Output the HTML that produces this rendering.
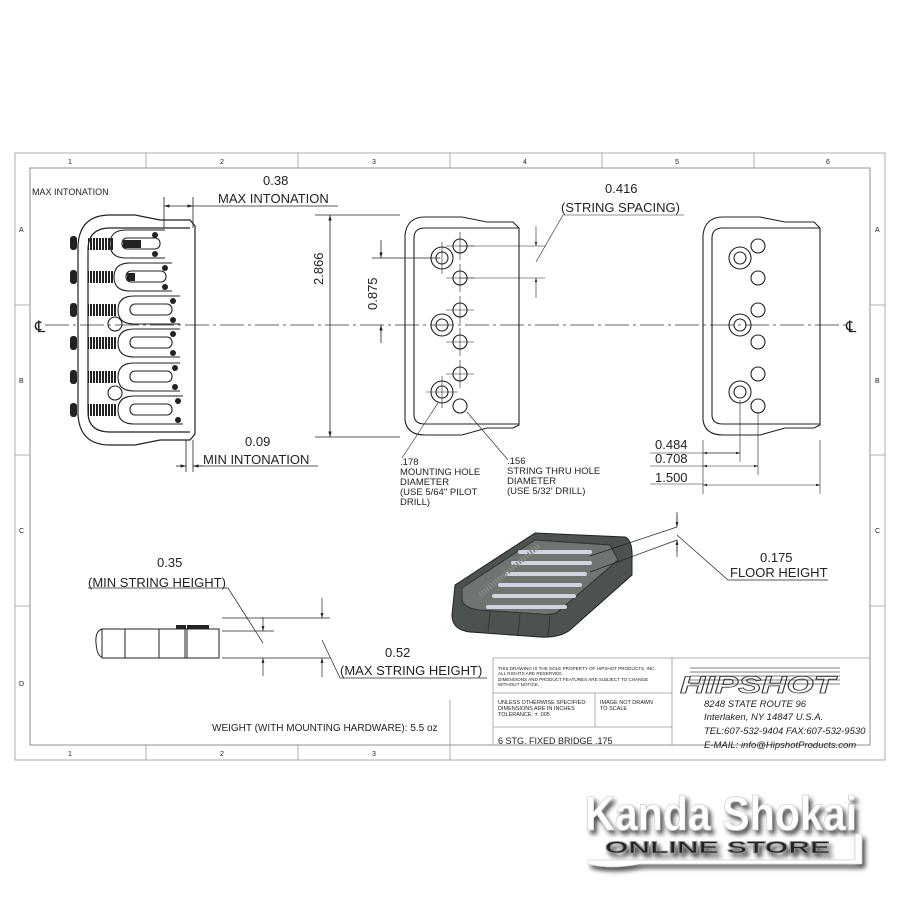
<!DOCTYPE html>
<html><head><meta charset="utf-8"><style>
html,body{margin:0;padding:0;background:#fff;width:900px;height:900px;overflow:hidden}
svg{display:block}
text{font-family:"Liberation Sans",sans-serif;fill:#222}
.hip{fill:none;stroke:#333;stroke-width:0.8}
.wm{fill:#fff;stroke:#bbb;stroke-width:0.5}
</style></head><body>
<svg width="900" height="900" viewBox="0 0 900 900" xmlns="http://www.w3.org/2000/svg">
<defs>
<marker id="ar" viewBox="0 0 10 10" refX="10" refY="5" markerWidth="7" markerHeight="7" orient="auto-start-reverse"><path d="M0,2 L10,5 L0,8z" fill="#222"/></marker>
<pattern id="spr" width="3" height="10" patternUnits="userSpaceOnUse"><rect width="2" height="10" fill="#222"/></pattern>
<filter id="sh" x="-10%" y="-30%" width="130%" height="160%"><feGaussianBlur in="SourceAlpha" stdDeviation="2.5"/><feOffset dx="3" dy="4"/><feComponentTransfer><feFuncA type="linear" slope="0.7"/></feComponentTransfer><feMerge><feMergeNode/><feMergeNode in="SourceGraphic"/></feMerge></filter>
</defs>
<g fill="none" stroke="#999" stroke-width="0.8">
<rect x="15" y="153" width="870" height="607"/>
<rect x="30" y="168" width="840" height="577" stroke="#777"/>
<path d="M146,153v15M298,153v15M450,153v15M602,153v15M754,153v15M146,745v15M298,745v15M450,745v15M15,305h15M15,455h15M15,606h15M870,305h15M870,455h15M870,606h15"/>
</g>
<g font-size="7" fill="#555">
<text x="68" y="164">1</text><text x="220" y="164">2</text><text x="372" y="164">3</text><text x="523" y="164">4</text><text x="675" y="164">5</text><text x="826" y="164">6</text>
<text x="68" y="756">1</text><text x="220" y="756">2</text><text x="372" y="756">3</text>
<text x="19" y="232">A</text><text x="19" y="383">B</text><text x="19" y="533">C</text><text x="19" y="686">D</text>
<text x="875" y="232">A</text><text x="875" y="383">B</text><text x="875" y="533">C</text>
</g>
<text x="32" y="195" font-size="9">MAX INTONATION</text>
<line x1="45" y1="325" x2="848" y2="325" stroke="#333" stroke-width="0.8" stroke-dasharray="24,4,3,4"/>
<text x="35" y="332" font-size="16">℄</text><text x="846" y="332" font-size="16">℄</text>

<!-- LEFT BRIDGE -->
<g fill="none" stroke="#222" stroke-width="1.2">
<path d="M78,245 Q80,215 110,215 L135,215 L160,220 L190,220 L195,226 L195,434 L190,440 L160,440 L135,445 L110,445 Q80,445 78,415 Z"/>
<path d="M88,250 Q88,228 110,228 L190,228 M88,250 L88,412 Q88,432 110,432 L190,432"/>
</g>
<g fill="#222">
<rect x="70" y="236" width="7" height="14" rx="3"/><rect x="70" y="270" width="7" height="14" rx="3"/><rect x="70" y="303" width="7" height="14" rx="3"/><rect x="70" y="336" width="7" height="14" rx="3"/><rect x="70" y="370" width="7" height="14" rx="3"/><rect x="70" y="403" width="7" height="14" rx="3"/>
</g>
<g>
<rect x="88" y="238" width="26" height="12" fill="url(#spr)"/>
<rect x="88" y="271" width="26" height="12" fill="url(#spr)"/>
<rect x="88" y="304" width="28" height="12" fill="url(#spr)"/>
<rect x="88" y="337" width="28" height="12" fill="url(#spr)"/>
<rect x="88" y="371" width="28" height="12" fill="url(#spr)"/>
<rect x="88" y="404" width="28" height="12" fill="url(#spr)"/>
</g>
<g fill="none" stroke="#222" stroke-width="1.1">
<path d="M165,230 H126 Q110,230 110,244 Q110,258 126,258 H165"/><rect x="122" y="238" width="38" height="11" rx="5"/>
<path d="M172,263 H130 Q114,263 114,277 Q114,291 130,291 H172"/><rect x="126" y="271" width="40" height="11" rx="5"/>
<path d="M180,296 H134 Q118,296 118,310 Q118,324 134,324 H180"/><rect x="130" y="304" width="42" height="11" rx="5"/>
<path d="M180,329 H134 Q118,329 118,343 Q118,357 134,357 H180"/><rect x="130" y="337" width="42" height="11" rx="5"/>
<path d="M180,363 H134 Q118,363 118,377 Q118,391 134,391 H180"/><rect x="130" y="371" width="42" height="11" rx="5"/>
<path d="M183,396 H134 Q118,396 118,410 Q118,424 134,424 H183"/><rect x="130" y="404" width="42" height="11" rx="5"/>
<circle cx="115" cy="324" r="7"/><circle cx="115" cy="393" r="7"/>
</g>
<rect x="123" y="240" width="18" height="8" fill="#222"/><rect x="127" y="273" width="8" height="8" fill="#222"/>
<g fill="#222">
<circle cx="155" cy="235" r="3"/><circle cx="155" cy="254" r="3"/><circle cx="165" cy="268" r="3"/><circle cx="165" cy="287" r="3"/><circle cx="173" cy="301" r="3"/><circle cx="173" cy="320" r="3"/><circle cx="173" cy="334" r="3"/><circle cx="173" cy="353" r="3"/><circle cx="175" cy="368" r="3"/><circle cx="175" cy="387" r="3"/><circle cx="178" cy="401" r="3"/><circle cx="178" cy="420" r="3"/>
</g>
<g stroke="#222" stroke-width="0.8" fill="none">
<line x1="164" y1="197" x2="164" y2="228"/><line x1="193" y1="197" x2="193" y2="228"/>
<line x1="164" y1="206" x2="193" y2="206" marker-start="url(#ar)" marker-end="url(#ar)"/>
<line x1="193" y1="206" x2="338" y2="206"/>
<line x1="193" y1="440" x2="193" y2="472"/><line x1="186" y1="440" x2="186" y2="472"/>
<line x1="176" y1="466" x2="186" y2="466" marker-end="url(#ar)"/><line x1="203" y1="466" x2="193" y2="466" marker-end="url(#ar)"/>
<line x1="193" y1="466" x2="318" y2="466"/>
<line x1="315" y1="215" x2="400" y2="215"/><line x1="315" y1="437" x2="400" y2="437"/>
<line x1="330" y1="215" x2="330" y2="437" marker-start="url(#ar)" marker-end="url(#ar)"/>
<line x1="372" y1="258" x2="440" y2="258"/>
<line x1="381" y1="240" x2="381" y2="258" marker-end="url(#ar)"/><line x1="381" y1="343" x2="381" y2="325" marker-end="url(#ar)"/>
</g>
<text x="263" y="185" font-size="13">0.38</text>
<text x="218" y="203" font-size="13">MAX INTONATION</text>
<text x="245" y="446" font-size="13">0.09</text>
<text x="203" y="464" font-size="13">MIN INTONATION</text>
<text font-size="13" transform="translate(323,285) rotate(-90)">2.866</text>
<text font-size="13" transform="translate(377,310) rotate(-90)">0.875</text>

<!-- MIDDLE & RIGHT BRIDGE -->
<g fill="none" stroke="#222" stroke-width="1.1">
<path d="M405,235 Q407,217 425,217 L462,217 L487,222 L513,222 L519,228 L519,425 L513,428 L487,428 L462,435 L425,435 Q407,435 405,420 Z"/>
<path d="M414,238 Q414,228 425,228 L519,228 M414,238 L414,415 Q414,424 425,424 L519,424"/>
<circle cx="442" cy="258" r="11"/><circle cx="442" cy="258" r="6"/>
<circle cx="442" cy="325" r="11"/><circle cx="442" cy="325" r="6"/>
<circle cx="442" cy="392" r="11"/><circle cx="442" cy="392" r="6"/>
<circle cx="460" cy="246" r="7"/><circle cx="460" cy="278" r="7"/><circle cx="460" cy="310" r="7"/><circle cx="460" cy="342" r="7"/><circle cx="460" cy="374" r="7"/><circle cx="460" cy="406" r="7"/>
<path d="M703,235 Q705,217 723,217 L760,217 L785,222 L814,222 L820,228 L820,425 L814,428 L785,428 L760,435 L723,435 Q705,435 703,420 Z"/>
<path d="M712,238 Q712,228 723,228 L820,228 M712,238 L712,415 Q712,424 723,424 L820,424"/>
<circle cx="740" cy="258" r="11"/><circle cx="740" cy="258" r="6"/>
<circle cx="740" cy="325" r="11"/><circle cx="740" cy="325" r="6"/>
<circle cx="740" cy="392" r="11"/><circle cx="740" cy="392" r="6"/>
<circle cx="758" cy="246" r="7"/><circle cx="758" cy="278" r="7"/><circle cx="758" cy="310" r="7"/><circle cx="758" cy="342" r="7"/><circle cx="758" cy="374" r="7"/><circle cx="758" cy="406" r="7"/>
</g>
<g stroke="#222" stroke-width="0.6" fill="none">
<path d="M460,232v28M446,246h28M460,264v28M446,278h28M460,296v28M446,310h28M460,328v28M446,342h28M460,360v28M446,374h28M442,242v32M426,392h32M442,376v32"/>
<line x1="460" y1="246" x2="545" y2="246"/><line x1="460" y1="278" x2="545" y2="278"/>
<line x1="536" y1="226" x2="536" y2="246" marker-end="url(#ar)"/><line x1="536" y1="298" x2="536" y2="278" marker-end="url(#ar)"/>
<path d="M536,262 L563,215 L684,215"/>
<path d="M438,403 L402,458"/><path d="M467,412 L508,460"/>
<line x1="703" y1="440" x2="703" y2="494"/><line x1="820" y1="440" x2="820" y2="494"/>
<line x1="740" y1="400" x2="740" y2="462"/><line x1="758" y1="412" x2="758" y2="475"/>
<line x1="650" y1="453" x2="740" y2="453"/><line x1="703" y1="453" x2="740" y2="453" marker-start="url(#ar)" marker-end="url(#ar)"/>
<line x1="650" y1="466" x2="703" y2="466"/><line x1="703" y1="466" x2="758" y2="466" marker-start="url(#ar)" marker-end="url(#ar)"/>
<line x1="650" y1="484" x2="703" y2="484"/><line x1="703" y1="485" x2="820" y2="485" marker-start="url(#ar)" marker-end="url(#ar)"/>
</g>
<text x="605" y="193" font-size="13">0.416</text>
<text x="561" y="212" font-size="13">(STRING SPACING)</text>
<text x="655" y="449" font-size="13">0.484</text>
<text x="655" y="463" font-size="13">0.708</text>
<text x="655" y="482" font-size="13">1.500</text>
<g font-size="9.5"><text x="400" y="465">.178</text><text x="400" y="475">MOUNTING HOLE</text><text x="400" y="485">DIAMETER</text><text x="400" y="495">(USE 5/64" PILOT</text><text x="400" y="505">DRILL)</text>
<text x="507" y="464">.156</text><text x="507" y="474">STRING THRU HOLE</text><text x="507" y="484">DIAMETER</text><text x="507" y="494">(USE 5/32' DRILL)</text></g>

<!-- 3D VIEW -->
<g>
<path d="M455,585 L535,533 L625,537 Q633,540 632,560 L632,575 L570,630 Q560,638 540,637 L470,632 Q452,630 452,615 Z" fill="#4c524d" stroke="#222"/>
<path d="M462,588 L535,540 L610,545 L618,560 L560,610 Q555,616 540,614 L480,610 Q462,608 462,598 Z" fill="#6e746f" stroke="#333"/>
<g stroke="#cfd4de" stroke-width="4" fill="none" stroke-linecap="round">
<path d="M520,552 L590,552"/><path d="M513,563 L590,563"/><path d="M507,574 L585,574"/><path d="M500,585 L580,585"/><path d="M494,596 L574,596"/><path d="M488,607 L565,607"/>
</g>
<g stroke="#333" stroke-width="1" fill="none">
<path d="M480,595 L540,545" stroke-dasharray="1.5,1.5" stroke-width="5" stroke="#888"/>
<path d="M488,632 L490,612M518,635 L520,614M548,637 L550,616"/>
</g>
</g>
<g stroke="#222" stroke-width="0.7" fill="none">
<path d="M590,556 L677,527 L677,515"/><path d="M590,572 L677,540 L677,552"/>
<line x1="677" y1="512" x2="677" y2="527" marker-end="url(#ar)"/><line x1="677" y1="557" x2="677" y2="540" marker-end="url(#ar)"/>
<path d="M677,535 L728,580 L828,580"/>
</g>
<text x="760" y="562" font-size="13">0.175</text>
<text x="730" y="577" font-size="13">FLOOR HEIGHT</text>

<!-- SIDE VIEW -->
<g fill="none" stroke="#222" stroke-width="1">
<rect x="102" y="629" width="117" height="29"/>
<path d="M102,629 Q95,631 96,643 Q97,656 102,657"/>
<path d="M125,629v29M159,629v29M185,629v29M187,629v29"/>
</g>
<rect x="176" y="625" width="10" height="4" fill="#222"/><rect x="187" y="625" width="22" height="4" fill="#222"/>
<g stroke="#222" stroke-width="0.7" fill="none">
<line x1="222" y1="618" x2="330" y2="618"/><line x1="222" y1="631" x2="274" y2="631"/><line x1="222" y1="658" x2="330" y2="658"/>
<line x1="263" y1="617" x2="263" y2="631" marker-end="url(#ar)"/><line x1="263" y1="676" x2="263" y2="658" marker-end="url(#ar)"/>
<line x1="322" y1="598" x2="322" y2="618" marker-end="url(#ar)"/><line x1="322" y1="677" x2="322" y2="658" marker-end="url(#ar)"/>
<path d="M263,643 L228,588 L88,588"/><path d="M322,640 L340,678 L487,678"/>
</g>
<text x="157" y="567" font-size="13">0.35</text>
<text x="88" y="587" font-size="13">(MIN STRING HEIGHT)</text>
<text x="385" y="657" font-size="13">0.52</text>
<text x="340" y="675" font-size="13">(MAX STRING HEIGHT)</text>
<text x="212" y="731" font-size="10" fill="#444">WEIGHT (WITH MOUNTING HARDWARE): 5.5 oz</text>

<!-- TITLE BLOCK -->
<g fill="none" stroke="#999" stroke-width="0.8">
<path d="M493,658 H870 M493,658 V745 M672,658 V745 M493,693 H672 M493,727 H672 M595,693 V727 M450,700 V745 M450,745 H493"/>
</g>
<g font-size="4.6" fill="#444"><text x="498" y="670">THIS DRAWING IS THE SOLE PROPERTY OF HIPSHOT PRODUCTS, INC.</text><text x="498" y="675">ALL RIGHTS ARE RESERVED.</text><text x="498" y="681">DIMENSIONS AND PRODUCT FEATURES ARE SUBJECT TO CHANGE</text><text x="498" y="686">WITHOUT NOTICE.</text></g>
<g font-size="5.5" fill="#444"><text x="498" y="704">UNLESS OTHERWISE SPECIFIED:</text><text x="498" y="710">DIMENSIONS ARE IN INCHES</text><text x="498" y="716">TOLERANCE: ± .005</text><text x="600" y="704">IMAGE NOT DRAWN</text><text x="600" y="710">TO SCALE</text></g>
<text x="498" y="744" font-size="9" fill="#444">6 STG. FIXED BRIDGE .175</text>
<g stroke="#555" stroke-width="0.7"><path d="M690,668h150M690,672h150M690,676h150M690,680h150M690,684h150"/></g>
<text x="680" y="693" font-size="24" font-style="italic" font-weight="bold" class="hip" textLength="155" lengthAdjust="spacingAndGlyphs">HIPSHOT</text>
<g font-size="9.5" font-style="italic" fill="#333"><text x="704" y="707">8248 STATE ROUTE 96</text><text x="704" y="720">Interlaken, NY 14847 U.S.A.</text><text x="704" y="734">TEL:607-532-9404 FAX:607-532-9530</text><text x="704" y="748">E-MAIL: info@HipshotProducts.com</text></g>

<!-- WATERMARK -->
<g filter="url(#sh)">
<text x="585" y="830" font-size="48" font-weight="bold" class="wm" textLength="272" lengthAdjust="spacingAndGlyphs">Kanda Shokai</text>
<path d="M588,860 L855,860 L855,834 L862,834 L862,864 L640,864 Q610,870 588,864 Z" fill="#fff" stroke="#bbb" stroke-width="0.5"/>
<text x="605" y="853" font-size="17" font-weight="bold" fill="#eee" stroke="#888" stroke-width="0.8" textLength="225" lengthAdjust="spacingAndGlyphs">ONLINE STORE</text>
</g>
</svg>
</body></html>
